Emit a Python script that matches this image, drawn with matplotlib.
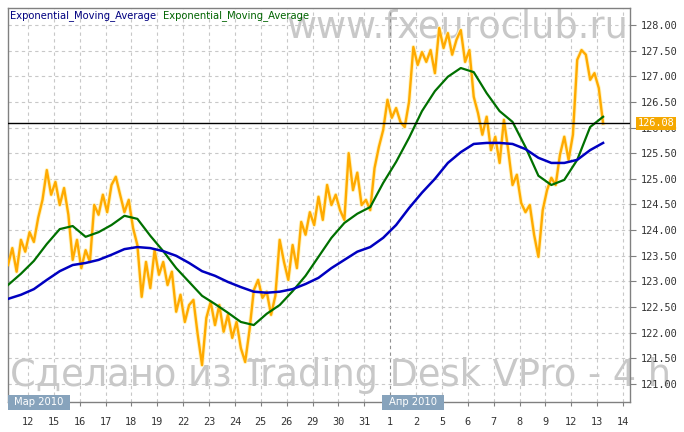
import matplotlib
matplotlib.use("Agg")
import matplotlib.pyplot as plt
from matplotlib.patches import Rectangle
from matplotlib.transforms import blended_transform_factory
import numpy as np

# Precio (barras de 4 horas), EMA rapida (verde) y EMA lenta (azul)
price = [123.32, 123.65, 123.19, 123.81, 123.58, 123.96, 123.77, 124.24, 124.59, 125.17,
         124.69, 124.94, 124.49, 124.82, 124.30, 123.42, 123.81, 123.26, 123.61, 123.38,
         124.49, 124.30, 124.69, 124.35, 124.88, 125.04, 124.69, 124.35, 124.59, 124.04,
         123.71, 122.70, 123.38, 122.87, 123.61, 123.13, 123.38, 122.93, 123.19, 122.41,
         122.74, 122.21, 122.54, 122.64, 121.96, 121.37, 122.29, 122.60, 122.15, 122.54,
         122.02, 122.35, 121.90, 122.21, 121.70, 121.43, 122.05, 122.83, 123.03, 122.68,
         122.80, 122.35, 122.72, 123.81, 123.38, 123.03, 123.71, 123.26, 124.16, 123.91,
         124.35, 124.10, 124.65, 124.20, 124.88, 124.49, 124.69, 124.39, 124.20, 125.50,
         124.78, 125.12, 124.49, 124.59, 124.39, 125.21, 125.62, 125.95, 126.54, 126.19,
         126.38, 126.11, 126.01, 126.50, 127.57, 127.22, 127.47, 127.28, 127.51, 127.06,
         127.94, 127.55, 127.84, 127.42, 127.71, 127.90, 127.28, 127.51, 126.60, 126.28,
         125.86, 126.21, 125.56, 125.82, 125.31, 126.15, 125.56, 124.88, 125.08, 124.53,
         124.35, 124.49, 123.91, 123.48, 124.39, 124.78, 125.02, 124.88, 125.47, 125.82,
         125.37, 125.86, 127.32, 127.51, 127.42, 126.93, 127.06, 126.77, 126.08]

ema_fast = [122.93, 123.15, 123.40, 123.73, 124.02, 124.08, 123.87, 123.96, 124.10, 124.28,
            124.22, 123.89, 123.59, 123.26, 122.99, 122.72, 122.56, 122.39, 122.21, 122.15,
            122.37, 122.54, 122.81, 123.11, 123.48, 123.85, 124.14, 124.32, 124.45, 124.92,
            125.33, 125.80, 126.32, 126.71, 126.99, 127.16, 127.08, 126.67, 126.32, 126.11,
            125.62, 125.06, 124.88, 124.98, 125.37, 126.01, 126.21]

ema_slow = [122.66, 122.74, 122.85, 123.03, 123.20, 123.32, 123.36, 123.42, 123.52, 123.63,
            123.67, 123.65, 123.59, 123.50, 123.36, 123.20, 123.11, 122.99, 122.89, 122.80,
            122.78, 122.80, 122.85, 122.95, 123.07, 123.26, 123.42, 123.58, 123.67, 123.85,
            124.10, 124.43, 124.73, 125.00, 125.31, 125.52, 125.68, 125.70, 125.70, 125.68,
            125.58, 125.41, 125.31, 125.31, 125.37, 125.56, 125.70]

day_labels = ['12', '15', '16', '17', '18', '19', '22', '23', '24', '25', '26', '29',
              '30', '31', '1', '2', '5', '6', '7', '8', '9', '12', '13', '14']
months = ['Мар 2010', 'Апр 2010']
month_start = [-0.77, 13.7]
last_price = 126.08

start = -0.77  # la primera barra empieza antes del 12 de marzo
x_price = start + np.arange(len(price)) / 6
x_ema = start + np.arange(len(ema_fast)) * 0.5

W, H = 684, 432
fig = plt.figure(figsize=(W / 100, H / 100), dpi=100)
ax = fig.add_axes([8 / W, (H - 402) / H, 622 / W, 394 / H])
ax.set_facecolor('none')

# marcas de agua
fig.text(628 / W, (H - 37) / H, 'www.fxeuroclub.ru', fontsize=26.5, color='#c8c8c8',
         family='DejaVu Sans', ha='right', va='baseline', zorder=-1)
fig.text(10 / W, (H - 386) / H, 'Сделано из Trading Desk VPro - 4 h', fontsize=26.5,
         color='#c8c8c8', family='DejaVu Sans', ha='left', va='baseline', zorder=-1)

ax.set_xlim(start, 23.27)
ax.set_ylim(120.65, 128.33)

# rejilla
grid_kw = dict(color='#c8c8c8', lw=0.8, ls=(0, (3, 3)), zorder=1)
for k in range(len(day_labels)):
    c = '#909090' if day_labels[k] == '1' else '#c8c8c8'
    ax.axvline(k, **{**grid_kw, 'color': c})
for v in np.arange(121.0, 128.01, 0.5):
    ax.axhline(v, **grid_kw)

ax.plot(x_price, price, color='#fff4c0', lw=3.0, zorder=2)
ax.plot(x_price, price, color='#ffaa00', lw=1.7, zorder=3)
ax.plot(x_ema, ema_fast, color='#007000', lw=1.6, zorder=4)
ax.plot(x_ema, ema_slow, color='#0000c0', lw=1.8, zorder=4)
ax.axhline(last_price, color='black', lw=1, zorder=5)

for s in ax.spines.values():
    s.set_color('#808080')
    s.set_linewidth(1)

ax.yaxis.tick_right()
ax.set_yticks(np.arange(121.0, 128.01, 0.5))
ax.set_yticklabels([f'{v:.2f}' for v in np.arange(121.0, 128.01, 0.5)])
ax.set_xticks(range(len(day_labels)))
ax.set_xticklabels(day_labels)
ax.tick_params(axis='y', length=4, color='#808080', labelsize=7.4, labelcolor='#333333', pad=4)
ax.tick_params(axis='x', length=3, color='#808080', labelsize=7.4, labelcolor='#333333', pad=8)
for lab in ax.get_xticklabels() + ax.get_yticklabels():
    lab.set_family('DejaVu Sans Mono')

# etiqueta del ultimo precio
ax.text(1.012, last_price, f'{last_price:.2f}', transform=blended_transform_factory(ax.transAxes, ax.transData),
        color='white', fontsize=7.4, family='DejaVu Sans Mono', va='center', ha='left', zorder=10,
        bbox=dict(boxstyle='square,pad=0.15', fc='#f5a800', ec='none'), clip_on=False)

# leyenda
fig.text(10 / W, (H - 16) / H, 'Exponential_Moving_Average', color='#000080', fontsize=7.2, va='center')
fig.text(163 / W, (H - 16) / H, 'Exponential_Moving_Average', color='#006400', fontsize=7.2, va='center')

# cajas de los meses
tr = blended_transform_factory(ax.transData, ax.transAxes)
for m, x0 in zip(months, month_start):
    ax.add_patch(Rectangle((x0, -0.0203), 2.4, 0.038, transform=tr, fc='#87a3bc', ec='none',
                           clip_on=False, zorder=6))
    ax.text(x0 + 1.2, -0.001, m, transform=tr, color='white', fontsize=7.2, ha='center',
            va='center', zorder=7, clip_on=False)

fig.savefig('out.png', dpi=100)
